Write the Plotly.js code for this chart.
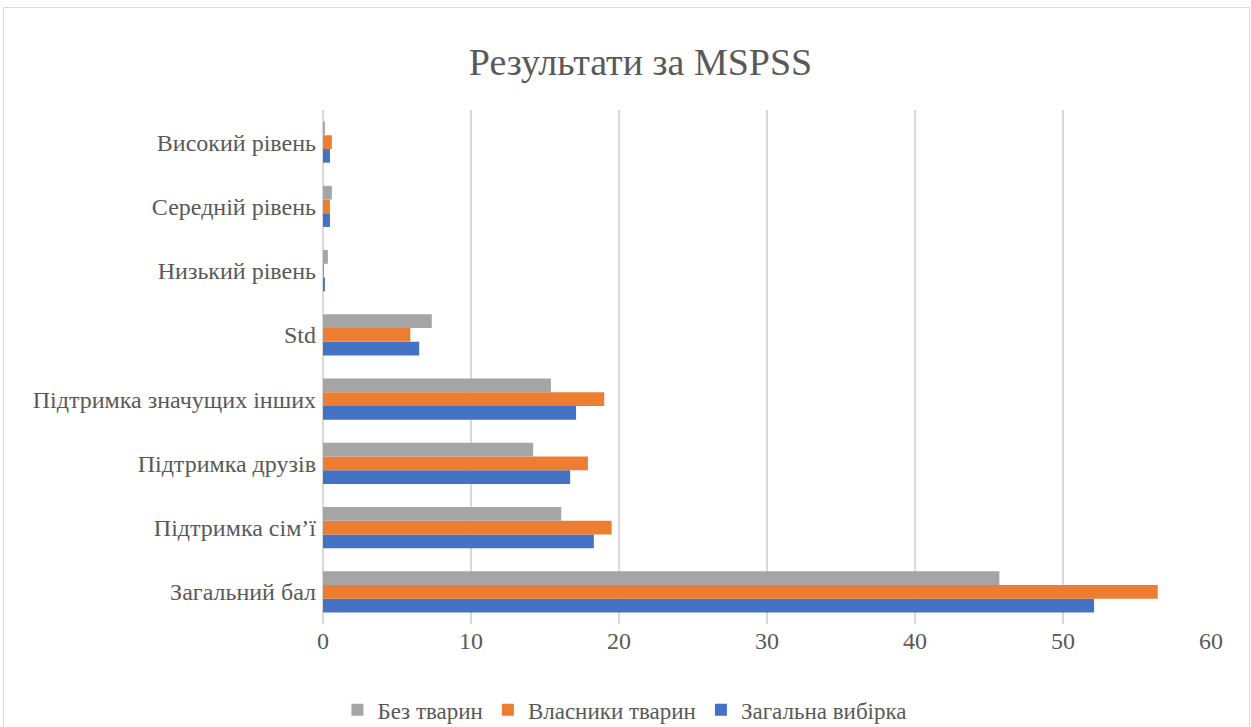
<!DOCTYPE html>
<html>
<head>
<meta charset="utf-8">
<script src="https://cdn.plot.ly/plotly-3.0.1.min.js"></script>
<style>
html,body{margin:0;padding:0;background:#fff;}
#frame{position:absolute;left:3px;top:7px;width:1245px;height:730px;border:1px solid #d9d9d9;pointer-events:none;}
</style>
</head>
<body>
<div id="chart" style="width:1251px;height:727px;"></div>
<div id="frame"></div>
<script>
const categories = ["Загальний бал","Підтримка сім’ї","Підтримка друзів","Підтримка значущих інших","Std","Низький рівень","Середній рівень","Високий рівень"];
const seriesNames = ["Загальна вибірка","Власники тварин","Без тварин"];
const totalSample = [52.1, 18.3, 16.7, 17.1, 6.5, 0.13, 0.47, 0.47];
const petOwners   = [56.4, 19.5, 17.9, 19.0, 5.9, 0.07, 0.47, 0.6];
const noPets      = [45.7, 16.1, 14.2, 15.4, 7.35, 0.33, 0.6, 0.13];
const colors = ["#4472c4","#ed7d31","#a5a5a5"];
const xTicks = [0,10,20,30,40,50,60];

const seriesValues = [totalSample, petOwners, noPets];
const traces = seriesValues.map((v,i)=>({
  type:'bar', orientation:'h', name:seriesNames[i], y:categories, x:v,
  marker:{color:colors[i]}, hoverinfo:'x+name'
}));

const font = "'Liberation Serif','Times New Roman',serif";
Plotly.newPlot('chart', traces, {
  width:1251, height:727,
  margin:{l:323, r:40, t:110, b:103, autoexpand:false},
  paper_bgcolor:'#fff', plot_bgcolor:'#fff',
  barmode:'group', bargap:0.36, bargroupgap:0,
  title:{text:'Результати за MSPSS', font:{family:font, size:38, color:'#595959'}, xref:'container', x:0.512, xanchor:'center', yref:'container', y:0.915, yanchor:'middle'},
  xaxis:{range:[0,60], tickvals:xTicks, showgrid:true, gridcolor:'#d9d9d9', gridwidth:1.5, zeroline:true, zerolinecolor:'#d9d9d9', zerolinewidth:1.5, showline:false, ticks:'', tickfont:{family:font, size:24, color:'#595959'}, fixedrange:true, automargin:false},
  yaxis:{type:'category', categoryorder:'array', categoryarray:categories, showgrid:false, zeroline:false, showline:false, ticks:'', ticklabelstandoff:6, tickfont:{family:font, size:24, color:'#595959'}, fixedrange:true, automargin:false},
  legend:{orientation:'h', traceorder:'reversed', x:0.34, xanchor:'center', y:-0.167, yanchor:'middle', font:{family:font, size:23, color:'#595959'}, itemwidth:30},
  showlegend:true
}, {displayModeBar:false, staticPlot:true});
</script>
</body>
</html>
